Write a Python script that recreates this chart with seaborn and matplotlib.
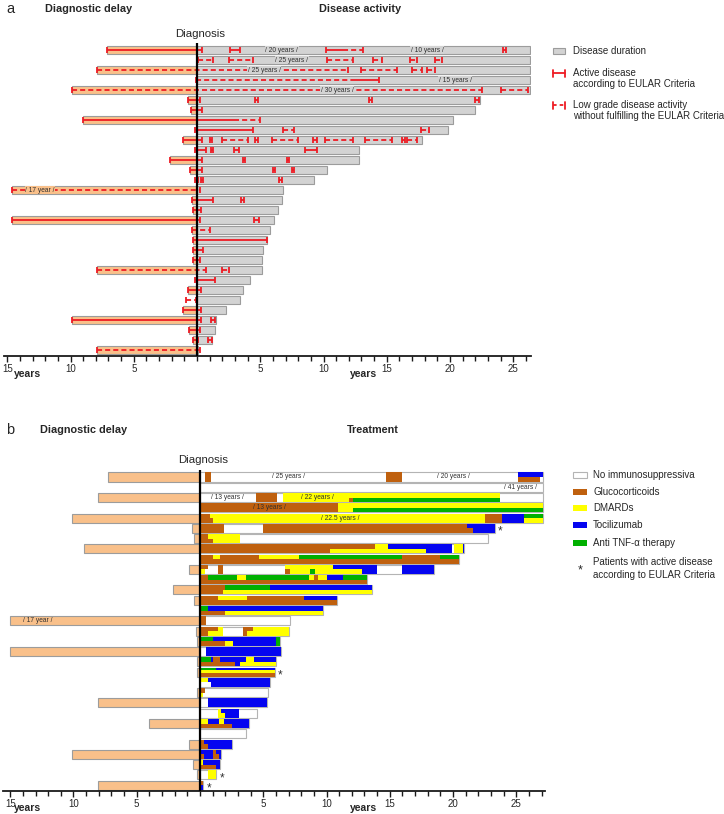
import numpy as np
import pandas as pd
import matplotlib
matplotlib.use("Agg")
import matplotlib.pyplot as plt
import seaborn as sns
from collections import Counter
from matplotlib.ticker import FixedLocator, FixedFormatter, MultipleLocator
from matplotlib.patches import Rectangle

sns.set_theme(style="white")
plt.rcParams["font.family"] = ["Liberation Sans", "DejaVu Sans"]

W, H = 724, 814

# ---------------- data: panel a (disease activity) ----------------
patients = list(range(1, 32))
delay_a = [7.1, 0, 7.9, 0, 9.9, 0.7, 0.5, 9.0, 0, 1.1, 0, 2.1, 0.55, 0, 14.6, 0.4,
           0.3, 14.6, 0.4, 0.3, 0.3, 0.3, 7.9, 0, 0.7, 0, 1.1, 9.9, 0.6, 0.3, 7.9]
duration_a = [26.3, 26.3, 26.3, 26.3, 26.3, 22.4, 22.0, 20.2, 19.8, 17.8, 12.8, 12.8,
              10.3, 9.25, 6.8, 6.7, 6.4, 6.1, 5.8, 5.5, 5.2, 5.1, 5.1, 4.2, 3.6, 3.4,
              2.3, 1.5, 1.4, 1.2, 0.1]
active_a = [(1, -7.1, 0.4), (1, 2.6, 3.4), (1, 10.2, 11.5), (1, 24.2, 24.4),
            (4, 12.3, 14.4),
            (6, -0.7, 0.2), (6, 4.55, 4.8), (6, 13.6, 13.85), (6, 22.0, 22.3),
            (7, -0.5, 0.4), (8, -9.0, 2.9), (9, -0.2, 4.4),
            (10, -1.1, 0.4), (10, 1.0, 1.2), (10, 4.6, 4.85), (10, 9.2, 9.45), (10, 16.2, 16.45),
            (11, -0.2, 0.7), (11, 1.1, 1.3), (11, 2.9, 3.3), (11, 8.5, 9.5),
            (12, -2.1, 0.4), (12, 3.6, 3.8), (12, 7.1, 7.3),
            (13, -0.55, 0.4), (13, 6.0, 6.2), (13, 7.5, 7.7),
            (14, -0.2, 0.1), (14, 0.3, 0.5), (14, 6.5, 6.7),
            (16, -0.4, 1.3), (16, 3.5, 3.7), (17, -0.3, 0.3),
            (18, -14.6, 0.2), (18, 4.5, 4.9), (20, -0.3, 5.5), (21, -0.3, 0.5),
            (22, -0.3, 0.2), (24, -0.2, 1.4), (25, -0.7, 0.3), (27, -1.1, 0.3),
            (28, -9.9, 0.3), (28, 1.1, 1.4), (29, -0.6, 0.2), (30, -0.3, 0.1), (30, 0.9, 1.2)]
lowgrade_a = [(1, 11.5, 13.1),
              (2, 0.1, 1.3), (2, 2.5, 4.4), (2, 10.3, 12.3), (2, 13.9, 14.6), (2, 16.8, 17.4), (2, 18.8, 19.4),
              (3, -7.9, 11.9), (3, 13.0, 15.8), (3, 17.0, 17.8), (3, 18.2, 18.8),
              (4, -0.1, 12.3), (5, -9.9, 22.5), (5, 24.0, 26.2), (8, 2.9, 5.0),
              (9, 6.8, 7.7), (9, 17.7, 18.3),
              (10, 2.0, 4.0), (10, 5.9, 8.0), (10, 10.1, 12.3), (10, 13.3, 15.4), (10, 16.6, 17.4),
              (15, -14.6, 0.2), (19, -0.4, 1.0), (23, -7.9, 0.7), (23, 2.0, 2.5),
              (26, -0.9, -0.1), (31, -7.9, 0.2)]
breaks_a = [(1, 6.7, "20 years"), (1, 18.2, "10 years"), (2, 7.5, "25 years"),
            (3, 5.3, "25 years"), (4, 20.4, "15 years"), (5, 11.1, "30 years"),
            (15, -12.4, "17 year")]

# ---------------- data: panel b (treatment) ----------------
delay_b = [7.3, 0, 8.1, 0, 10.1, 0.6, 0.5, 9.2, 0, 0.9, 0, 2.1, 0.5, 0, 15.0, 0.3,
           0.25, 15.0, 0.25, 0.25, 0, 0.2, 8.1, 0, 4.0, 0, 0.9, 10.1, 0.55, 0.25, 8.1]
treat_end_b = [27.1, 27.1, 27.1, 27.1, 27.1, 23.3, 22.8, 20.9, 20.5, 18.5, 13.2, 13.6,
               10.8, 9.7, 7.1, 7.0, 6.3, 6.4, 6.0, 5.9, 5.5, 5.4, 5.3, 4.5, 3.9, 3.6,
               2.5, 1.7, 1.6, 1.3, 0.25]
glucocorticoids = [
    (1, 0.4, 0.9, 'f'), (1, 14.7, 16.0, 'f'), (1, 25.1, 26.9, 'b'),
    (3, 4.4, 6.1, 'f'), (3, 11.8, 12.1, 'b'),
    (4, 0, 10.9, 'f'),
    (5, 0, 0.8, 'f'), (5, 0.8, 1.0, 'b'), (5, 22.5, 23.9, 'f'),
    (6, 0, 1.9, 'f'), (6, 5.0, 21.1, 'f'), (6, 21.1, 21.6, 'b'),
    (7, 0, 0.6, 't'), (7, 0, 1.0, 'b'),
    (8, 0, 10.3, 'f'), (8, 10.3, 13.8, 't'),
    (9, 0, 20.5, 'b'), (9, 0, 1.0, 't'), (9, 1.6, 4.7, 't'), (9, 16.0, 19.0, 't'),
    (10, 0, 0.6, 't'), (10, 1.4, 1.8, 'f'), (10, 6.7, 7.1, 'b'),
    (11, 0, 13.2, 'b'), (11, 0, 0.6, 't'), (11, 9.0, 9.3, 't'),
    (12, 0, 2.0, 't'), (12, 0, 1.8, 'b'),
    (13, 0, 10.8, 'b'), (13, 0, 1.4, 't'), (13, 3.7, 8.2, 't'),
    (14, 0, 2.0, 'b'),
    (15, 0, 0.5, 'f'),
    (16, 0, 1.4, 't'), (16, 3.4, 4.2, 't'), (16, 0, 0.6, 'b'), (16, 3.4, 3.7, 'b'),
    (17, 0, 2.0, 'b'),
    (19, 1.0, 1.6, 't'), (19, 0, 2.8, 'b'),
    (20, 0, 5.9, 'l'),
    (22, 0, 0.4, 't'),
    (25, 0, 2.5, 'b'),
    (27, 0, 0.3, 't'), (27, 0, 0.6, 'b'),
    (28, 1.0, 1.3, 't'), (28, 0, 0.3, 'b'), (28, 1.0, 1.5, 'b'),
    (29, 0, 1.3, 'b'),
    (31, 0, 0.25, 't'),
]
dmards = [
    (3, 6.6, 23.7, 't'), (3, 6.6, 11.8, 'b'),
    (4, 10.9, 27.1, 't'), (4, 10.9, 12.1, 'b'),
    (5, 0.8, 22.5, 't'), (5, 1.0, 22.5, 'b'), (5, 25.6, 27.1, 'b'),
    (7, 0.6, 3.2, 't'), (7, 1.0, 3.2, 'b'),
    (8, 13.8, 14.9, 't'), (8, 10.3, 17.9, 'b'), (8, 20.1, 20.8, 'f'),
    (9, 1.0, 1.6, 't'), (9, 4.7, 7.8, 't'),
    (10, 6.7, 10.5, 't'), (10, 0, 0.4, 'b'), (10, 7.1, 8.7, 'b'), (10, 9.1, 12.8, 'b'),
    (11, 2.9, 3.6, 't'), (11, 8.6, 9.0, 't'), (11, 9.3, 10.0, 't'),
    (12, 1.8, 13.6, 'b'),
    (13, 1.4, 3.7, 't'),
    (14, 2.0, 9.7, 'b'),
    (16, 1.4, 1.8, 't'), (16, 4.2, 7.0, 't'), (16, 0.6, 1.8, 'b'), (16, 3.7, 7.0, 'b'),
    (17, 2.0, 2.6, 'b'),
    (19, 3.6, 4.3, 't'), (19, 3.2, 6.0, 'b'),
    (20, 0, 5.9, 'm'),
    (21, 0, 0.6, 't'),
    (22, 0, 0.2, 'b'),
    (24, 1.4, 1.7, 't'), (24, 1.4, 2.0, 'b'),
    (25, 0, 0.6, 't'), (25, 1.5, 1.9, 't'),
    (29, 0, 0.2, 't'),
    (30, 0.6, 1.3, 'f'),
]
tocilizumab = [
    (1, 25.1, 27.1, 't'),
    (5, 23.9, 25.6, 'f'),
    (6, 21.1, 23.3, 't'), (6, 21.6, 23.3, 'b'),
    (8, 14.9, 19.9, 't'), (8, 17.9, 19.9, 'b'), (8, 20.8, 20.9, 'f'),
    (10, 10.5, 14.0, 't'), (10, 12.8, 14.0, 'b'), (10, 16.0, 18.5, 'f'),
    (11, 10.0, 11.3, 't'),
    (12, 5.5, 13.6, 't'),
    (13, 8.2, 10.8, 't'),
    (14, 0.6, 9.7, 't'),
    (17, 1.0, 6.0, 't'), (17, 2.6, 6.0, 'b'),
    (18, 0.5, 6.4, 'f'),
    (19, 0.9, 1.0, 't'), (19, 1.6, 3.6, 't'), (19, 4.3, 6.0, 't'), (19, 2.8, 3.2, 'b'),
    (20, 1.3, 5.9, 'u'),
    (21, 0.6, 5.5, 't'), (21, 0.9, 5.5, 'b'),
    (23, 0.6, 5.3, 'f'),
    (24, 1.7, 3.1, 't'), (24, 2.0, 3.1, 'b'),
    (25, 0.6, 1.5, 't'), (25, 1.9, 3.9, 't'), (25, 2.5, 3.9, 'b'),
    (27, 0.3, 2.5, 't'), (27, 0.6, 2.5, 'b'),
    (28, 0, 1.0, 't'), (28, 1.3, 1.7, 't'), (28, 0.3, 1.0, 'b'), (28, 1.5, 1.7, 'b'),
    (29, 0.2, 1.6, 't'), (29, 1.3, 1.6, 'b'),
    (31, 0, 0.25, 'b'),
]
anti_tnf = [
    (3, 12.1, 23.7, 'b'),
    (4, 12.1, 27.1, 'b'),
    (5, 25.6, 27.1, 't'),
    (9, 7.8, 16.0, 't'), (9, 19.0, 20.5, 't'),
    (10, 8.7, 9.1, 'b'),
    (11, 0.6, 2.9, 't'), (11, 3.6, 8.6, 't'), (11, 11.3, 13.2, 't'),
    (12, 2.0, 5.5, 't'),
    (14, 0, 0.6, 't'),
    (17, 0, 1.0, 't'), (17, 6.0, 6.3, 'f'),
    (19, 0, 0.9, 't'),
    (20, 0, 1.3, 'u'),
]
asterisk_rows_b = [6, 20, 30, 31]
breaks_b = [(1, 7.0, "25 years"), (1, 20.0, "20 years"), (2, 25.3, "41 years"),
            (3, 2.2, "13 years"), (3, 9.3, "22 years"), (4, 5.45, "13 years"),
            (5, 11.1, "22.5 years"), (15, -12.8, "17 year")]

tick_values = [-15, -10, -5, 5, 10, 15, 20, 25]
tick_labels = ["15", "10", "5", "5", "10", "15", "20", "25"]

# ---------------- styles ----------------
ORANGE = "#F9C08A"
GRAY = "#D3D3D3"
EDGE = "#9C9C9C"
RED = "#EE1C24"
C_GC = "#BF600E"
C_DM = "#FFFF00"
C_TO = "#0505F0"
C_TNF = "#00B000"
PARTS = {'f': (0, 1), 't': (0, 0.5), 'b': (0.5, 1), 'u': (0, 0.3), 'm': (0.3, 0.55), 'l': (0.55, 1)}

fig = plt.figure(figsize=(W / 100, H / 100), dpi=100)


def axrect(x0, y0, x1, y1):
    return [x0 / W, 1 - y1 / H, (x1 - x0) / W, (y1 - y0) / H]


def style_axis(ax, xlim, ylim):
    ax.set_xlim(*xlim)
    ax.set_ylim(*ylim)
    ax.set_xlabel("")
    ax.set_ylabel("")
    ax.set_yticks([])
    for s in ("left", "top", "right"):
        ax.spines[s].set_visible(False)
    ax.spines["bottom"].set_color("#1a1a1a")
    ax.spines["bottom"].set_linewidth(1.3)
    ax.xaxis.set_major_locator(FixedLocator(tick_values))
    ax.xaxis.set_major_formatter(FixedFormatter(tick_labels))
    ax.xaxis.set_minor_locator(MultipleLocator(1))
    ax.tick_params(axis="x", which="both", bottom=True, direction="out",
                   color="#1a1a1a", width=1.0, labelsize=7, pad=1.5)
    ax.tick_params(axis="x", which="major", length=4.5)
    ax.tick_params(axis="x", which="minor", length=3.5)
    ax.patch.set_alpha(0)
    ax.axvline(0, color="black", lw=1.6, zorder=8)


# ---------------- panel a ----------------
ax_a = fig.add_axes(axrect(4, 43, 531, 356))
df_a = pd.DataFrame({"patient": patients, "delay": -np.array(delay_a), "duration": duration_a})
sns.barplot(data=df_a, x="delay", y="patient", orient="h", color=ORANGE, saturation=1,
            edgecolor=EDGE, linewidth=0.8, width=0.85, errorbar=None, ax=ax_a)
sns.barplot(data=df_a, x="duration", y="patient", orient="h", color=GRAY, saturation=1,
            edgecolor=EDGE, linewidth=0.8, width=0.85, errorbar=None, ax=ax_a)

ends = Counter()
for r, s, e in active_a + lowgrade_a:
    ends[(r, round(s, 2))] += 1
    ends[(r, round(e, 2))] += 1
for r, s, e in active_a:
    ax_a.hlines(r - 1, s, e, color=RED, lw=1.3, zorder=4)
for r, s, e in lowgrade_a:
    ax_a.hlines(r - 1, s, e, color=RED, lw=1.3, linestyles=[(0, (2.8, 1.7))], zorder=4)
for (r, x), c in ends.items():
    if c == 1:
        ax_a.vlines(x, r - 1 - 0.33, r - 1 + 0.33, color=RED, lw=1.3, zorder=4)
for r, x, lab in breaks_a:
    ax_a.text(x, r - 1, "/ " + lab + " /", fontsize=4.8, ha="center", va="center",
              color="#303030", zorder=6,
              bbox=dict(boxstyle="square,pad=0.08", fc=ORANGE if x < 0 else GRAY, ec="none"))
style_axis(ax_a, (-15.26, 26.40), (30.6, -0.7))

# ---------------- panel b ----------------
ax_b = fig.add_axes(axrect(3, 470, 545, 791))
df_b = pd.DataFrame({"patient": patients, "delay": -np.array(delay_b), "treatment": treat_end_b})
HB = 0.88
sns.barplot(data=df_b, x="delay", y="patient", orient="h", color=ORANGE, saturation=1,
            edgecolor=EDGE, linewidth=0.8, width=HB, errorbar=None, ax=ax_b)
sns.barplot(data=df_b, x="treatment", y="patient", orient="h", color="white", saturation=1,
            edgecolor="#B4B4B4", linewidth=0.8, width=HB, errorbar=None, ax=ax_b)

for segs, col in ((glucocorticoids, C_GC), (dmards, C_DM), (tocilizumab, C_TO), (anti_tnf, C_TNF)):
    for r, s, e, p in segs:
        f0, f1 = PARTS[p]
        ax_b.barh(r - 1 - HB / 2 + f0 * HB, e - s, left=s, height=(f1 - f0) * HB,
                  align="edge", color=col, edgecolor="none", linewidth=0, zorder=3)
for r in asterisk_rows_b:
    ax_b.text(treat_end_b[r - 1] + 0.45, r - 1 + 0.3, "*", fontsize=8.5, ha="center",
              va="center", color="#333333", zorder=6)
for r, x, lab in breaks_b:
    ax_b.text(x, r - 1, "/ " + lab + " /", fontsize=4.8, ha="center", va="center",
              color="#303030", zorder=6)
style_axis(ax_b, (-15.57, 27.27), (30.57, -0.68))

# ---------------- overlay: titles & legends ----------------
ov = fig.add_axes([0, 0, 1, 1])
ov.set_xlim(0, W)
ov.set_ylim(H, 0)
ov.axis("off")
ov.patch.set_alpha(0)

def T(x, y, s, **kw):
    kw.setdefault("fontsize", 7)
    kw.setdefault("va", "center")
    kw.setdefault("ha", "left")
    ov.text(x, y, s, **kw)

T(6, 9, "a", fontsize=10.5)
T(45, 9, "Diagnostic delay", fontsize=7.8, fontweight="bold")
T(360, 9, "Disease activity", fontsize=7.8, fontweight="bold", ha="center")
T(200, 34, "Diagnosis", fontsize=8.2, ha="center")
T(28, 374, "years", fontsize=7.5, fontweight="bold", ha="center")
T(350, 374, "years", fontsize=7.5, fontweight="bold")

T(6, 430, "b", fontsize=10.5)
T(40, 430, "Diagnostic delay", fontsize=7.8, fontweight="bold")
T(373, 430, "Treatment", fontsize=7.8, fontweight="bold", ha="center")
T(203, 460, "Diagnosis", fontsize=8.2, ha="center")
T(28, 808, "years", fontsize=7.5, fontweight="bold", ha="center")
T(350, 808, "years", fontsize=7.5, fontweight="bold")

# legend a
ov.add_patch(Rectangle((553, 48), 12, 6, fc=GRAY, ec=EDGE, lw=0.8))
T(573, 51, "Disease duration")
ov.plot([553, 565], [73, 73], color=RED, lw=1.3)
ov.plot([553, 553], [69.5, 76.5], color=RED, lw=1.3)
ov.plot([565, 565], [69.5, 76.5], color=RED, lw=1.3)
T(573, 73, "Active disease")
T(573, 84, "according to EULAR Criteria")
ov.plot([553, 565], [105, 105], color=RED, lw=1.3, ls=(0, (2.0, 1.7)))
ov.plot([553, 553], [101.5, 108.5], color=RED, lw=1.3)
ov.plot([565, 565], [101.5, 108.5], color=RED, lw=1.3)
T(573, 105, "Low grade disease activity")
T(573, 116, "without fulfilling the EULAR Criteria")

# legend b
leg_b = [("No immunosuppressiva", "white", 475), ("Glucocorticoids", C_GC, 492),
         ("DMARDs", C_DM, 508), ("Tocilizumab", C_TO, 525), ("Anti TNF-α therapy", C_TNF, 543)]
for lab, col, y in leg_b:
    ov.add_patch(Rectangle((573, y - 3), 14, 6, fc=col, ec="#B4B4B4" if col == "white" else "none", lw=0.8))
    T(593, y, lab)
T(580, 570, "*", fontsize=9, ha="center")
T(593, 562, "Patients with active disease")
T(593, 575, "according to EULAR Criteria")

fig.savefig("out.png", dpi=100)
